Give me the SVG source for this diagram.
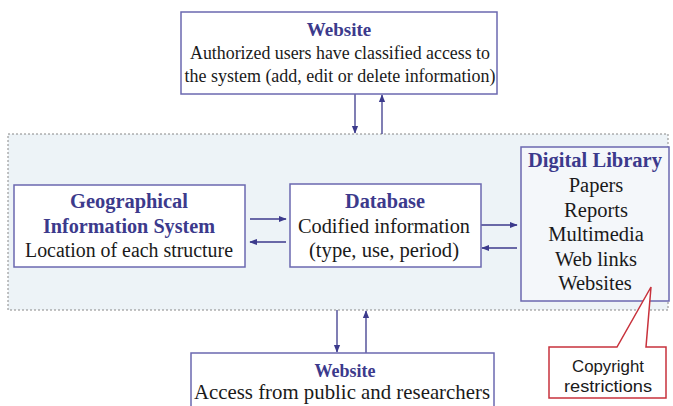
<svg xmlns="http://www.w3.org/2000/svg" width="673" height="406" viewBox="0 0 673 406">
<style>
.box{fill:#ffffff;stroke:#6b68b0;stroke-width:1.5}
.t{font-family:"Liberation Serif","Times New Roman",serif;font-size:20px;fill:#1a1a1a;text-anchor:middle}
.h{font-family:"Liberation Serif","Times New Roman",serif;font-size:20px;font-weight:bold;fill:#3c3a8c;text-anchor:middle}
.c{stroke:#3c3a8c;stroke-width:1.3;fill:none}
.s{font-family:"Liberation Sans",Arial,sans-serif;font-size:17px;fill:#1a1a1a;text-anchor:middle}
</style>
<defs>
<marker id="ah" viewBox="0 0 10 10" refX="9" refY="5" markerWidth="6" markerHeight="6" orient="auto">
<path d="M0,1 L10,5 L0,9 z" fill="#3c3a8c"/>
</marker>
</defs>
<rect x="0" y="0" width="673" height="406" fill="#ffffff"/>
<g id="container">
<rect x="8" y="134" width="660" height="176" fill="#edf3f7" stroke="#888" stroke-width="1" stroke-dasharray="2,2"/>
</g>
<g id="connectors">
<line class="c" x1="355" y1="94" x2="355" y2="133" marker-end="url(#ah)"/>
<line class="c" x1="382" y1="134" x2="382" y2="95" marker-end="url(#ah)"/>
<line class="c" x1="250" y1="219" x2="286" y2="219" marker-end="url(#ah)"/>
<line class="c" x1="286" y1="242" x2="250" y2="242" marker-end="url(#ah)"/>
<line class="c" x1="481" y1="225" x2="517" y2="225" marker-end="url(#ah)"/>
<line class="c" x1="517" y1="248" x2="482" y2="248" marker-end="url(#ah)"/>
<line class="c" x1="337" y1="310" x2="337" y2="352" marker-end="url(#ah)"/>
<line class="c" x1="366" y1="353" x2="366" y2="311" marker-end="url(#ah)"/>
</g>
<g id="website-top">
<rect class="box" x="181" y="12" width="316" height="82"/>
<text class="h" x="339" y="36" style="font-size:19px">Website</text>
<text class="t" x="340" y="59" style="font-size:18px" textLength="300" lengthAdjust="spacingAndGlyphs">Authorized users have classified access to</text>
<text class="t" x="340" y="82" style="font-size:18px" textLength="311" lengthAdjust="spacingAndGlyphs">the system (add, edit or delete information)</text>
</g>
<g id="gis">
<rect class="box" x="14" y="185" width="231" height="82"/>
<text class="h" x="129" y="208" textLength="118" lengthAdjust="spacingAndGlyphs">Geographical</text>
<text class="h" x="129" y="233" textLength="172" lengthAdjust="spacingAndGlyphs">Information System</text>
<text class="t" x="129" y="257" textLength="208" lengthAdjust="spacingAndGlyphs">Location of each structure</text>
</g>
<g id="database">
<rect class="box" x="290" y="184" width="191" height="83"/>
<text class="h" x="385" y="208" textLength="80" lengthAdjust="spacingAndGlyphs">Database</text>
<text class="t" x="384" y="233" textLength="172" lengthAdjust="spacingAndGlyphs">Codified information</text>
<text class="t" x="384" y="257" textLength="150" lengthAdjust="spacingAndGlyphs">(type, use, period)</text>
</g>
<g id="digital-library">
<rect class="box" x="521" y="147" width="148" height="154" style="fill:#f4f7fa"/>
<text class="h" x="595" y="167" textLength="134" lengthAdjust="spacingAndGlyphs">Digital Library</text>
<text class="t" x="596" y="192" style="font-size:20.5px">Papers</text>
<text class="t" x="596" y="217" style="font-size:20.5px">Reports</text>
<text class="t" x="596" y="241" style="font-size:20.5px">Multimedia</text>
<text class="t" x="596" y="266" style="font-size:20.5px">Web links</text>
<text class="t" x="595" y="290" style="font-size:20.5px">Websites</text>
</g>
<g id="website-bottom">
<rect class="box" x="191" y="353" width="303" height="60"/>
<text class="h" x="345" y="377" style="font-size:18px">Website</text>
<text class="t" x="342" y="399" textLength="296" lengthAdjust="spacingAndGlyphs" style="font-size:21px">Access from public and researchers</text>
</g>
<g id="copyright">
<path d="M549,347 L617,347 L651,287 L646,347 L666,347 L666,398 L549,398 Z" fill="#ffffff" stroke="#c8323c" stroke-width="1.5"/>
<text class="s" x="608" y="372" textLength="72" lengthAdjust="spacingAndGlyphs">Copyright</text>
<text class="s" x="608" y="392" textLength="88" lengthAdjust="spacingAndGlyphs">restrictions</text>
</g>
</svg>
